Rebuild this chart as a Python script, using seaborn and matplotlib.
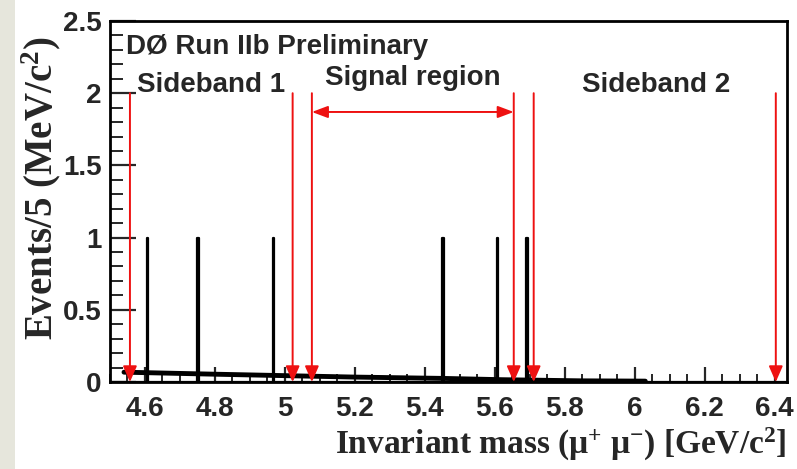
import numpy as np
import pandas as pd
import seaborn as sns
import matplotlib
matplotlib.use("Agg")
import matplotlib.pyplot as plt
from matplotlib.patches import Rectangle
from matplotlib.ticker import MultipleLocator

# Candidate dimuon masses (GeV/c^2), one event each
event_mass = [4.607, 4.752, 4.967, 5.452, 5.607, 5.692]

# Background fit curve (Events / 5 MeV)
fit_mass = [4.54, 4.80, 5.00, 5.20, 5.45, 5.62, 5.85, 6.03]
fit_events = [0.068, 0.054, 0.044, 0.034, 0.025, 0.016, 0.008, 0.006]

# Region boundaries (GeV/c^2)
cut_edges = [4.557, 5.022, 5.077, 5.654, 5.711, 6.403]
signal_window = (5.077, 5.654)
region_labels = ["Sideband 1", "Signal region", "Sideband 2"]

bin_width = 0.005
x_range = (4.5, 6.435)

sns.set_theme(style="ticks")
plt.rcParams["font.family"] = ["Liberation Sans", "DejaVu Sans"]
plt.rcParams["mathtext.fontset"] = "custom"
plt.rcParams["mathtext.rm"] = "Liberation Serif:bold"
plt.rcParams["mathtext.it"] = "Liberation Serif:bold"
plt.rcParams["mathtext.bf"] = "Liberation Serif:bold"

fig = plt.figure(figsize=(7.97, 4.69), dpi=100)
fig.patch.set_facecolor("white")
fig.patches.append(Rectangle((0, 0), 15 / 797, 1, transform=fig.transFigure,
                             facecolor="#e6e6dc", edgecolor="none", zorder=0))
ax = fig.add_axes([110 / 797, 1 - 382 / 469, 677 / 797, 361 / 469])

df = pd.DataFrame({"mass": event_mass})
bins = np.arange(x_range[0], x_range[1] + bin_width, bin_width)
sns.histplot(data=df, x="mass", bins=bins, element="step", fill=False,
             color="black", linewidth=1.6, ax=ax)

fit = pd.DataFrame({"mass": fit_mass, "events": fit_events})
sns.lineplot(data=fit, x="mass", y="events", color="black", linewidth=3.5,
             ax=ax, zorder=3)

red = "#ee1111"
for xc in cut_edges:
    ax.annotate("", xy=(xc, 0.0), xytext=(xc, 2.0),
                arrowprops=dict(arrowstyle="-|>,head_length=0.8,head_width=0.35",
                                color=red, lw=1.4, shrinkA=0, shrinkB=0),
                zorder=4)
ax.annotate("", xy=(signal_window[0], 1.87), xytext=(signal_window[1], 1.87),
            arrowprops=dict(arrowstyle="<|-|>,head_length=0.8,head_width=0.3",
                            color=red, lw=1.4, shrinkA=0, shrinkB=0), zorder=4)

ax.set_xlim(*x_range)
ax.set_ylim(0, 2.5)
ax.xaxis.set_minor_locator(MultipleLocator(0.05))
ax.yaxis.set_minor_locator(MultipleLocator(0.1))
ax.set_xticks([4.6, 4.8, 5.0, 5.2, 5.4, 5.6, 5.8, 6.0, 6.2, 6.4])
ax.set_xticklabels(["4.6", "4.8", "5", "5.2", "5.4", "5.6", "5.8", "6", "6.2", "6.4"])
ax.set_yticks([0, 0.5, 1, 1.5, 2, 2.5])
ax.set_yticklabels(["0", "0.5", "1", "1.5", "2", "2.5"])

ax.tick_params(axis="y", which="major", direction="in", length=19, width=1.6,
               labelsize=20, pad=6)
ax.tick_params(axis="y", which="minor", direction="in", length=9, width=1.4)
ax.tick_params(axis="x", which="major", direction="in", length=11, width=1.6,
               labelsize=20, pad=10)
ax.tick_params(axis="x", which="minor", direction="in", length=6, width=1.4)
for lab in ax.get_xticklabels() + ax.get_yticklabels():
    lab.set_fontweight("heavy")
for sp in ax.spines.values():
    sp.set_visible(True)
    sp.set_linewidth(2)
    sp.set_color("black")

ax.set_xlabel("")
ax.set_ylabel("")
fig.text(787 / 797, 1 - 444 / 469,
         r"Invariant mass ($\mathrm{μ}^{+}$ $\mathrm{μ}^{-}$) [GeV/c$^{2}$]",
         family="Liberation Serif", fontweight="bold", fontsize=24,
         ha="right", va="center")
fig.text(41 / 797, 1 - 188 / 469, r"Events/5 (MeV/c$^{2}$)",
         family="Liberation Serif", fontweight="bold", fontsize=28,
         rotation=90, ha="center", va="center")

ax.text(4.545, 2.27, "DØ Run IIb Preliminary", fontsize=20, fontweight="bold",
        ha="left", va="baseline")
label_x = [4.79, 5.365, 6.06]
label_y = [2.01, 2.06, 2.01]
for lx, ly, txt in zip(label_x, label_y, region_labels):
    ax.text(lx, ly, txt, fontsize=20, fontweight="bold", ha="center",
            va="baseline")

fig.savefig("out.png", dpi=100)
